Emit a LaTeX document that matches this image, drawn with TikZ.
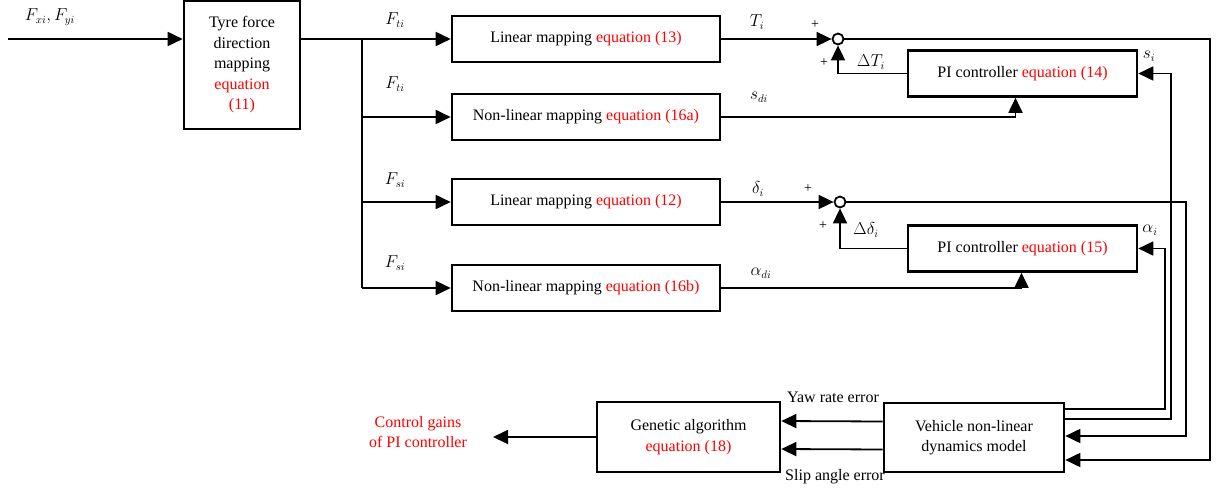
\documentclass[tikz,border=0pt]{standalone}
\usepackage{amssymb}
\usepackage{mathtools}
\usepackage{fontspec}
\setmainfont{Liberation Serif}
\usepackage{tikz}
\usetikzlibrary{arrows.meta}

\newcommand{\eqnref}[1]{\textcolor{red}{equation (#1)}}

\tikzset{
  blk/.style={draw, line width=2.6pt, inner sep=0pt, align=center},
  sig/.style={line width=1.8pt},
  arr/.style={sig, -{Triangle[length=15pt,width=14pt]}},
  sumpt/.style={circle, draw, line width=1.8pt, minimum size=11pt, inner sep=0pt},
  pm/.style={font=\fontsize{14}{16}\selectfont}
}

\begin{document}
\begin{tikzpicture}[x=1pt, y=-1pt, font=\fontsize{16}{20.5}\selectfont]
        \useasboundingbox (0,0) rectangle (1218,490);

        \node [blk, minimum width=116, minimum height=128] (tyre) at (242,65) {Tyre force\\direction\\mapping\\\textcolor{red}{equation}\\\textcolor{red}{(11)}};
        \node [blk, minimum width=268, minimum height=46] (lin13) at (586,39) {Linear mapping \eqnref{13}};
        \node [blk, minimum width=268, minimum height=46] (nl16a) at (586,117) {Non-linear mapping \eqnref{16a}};
        \node [blk, minimum width=268, minimum height=46] (lin12) at (586,202) {Linear mapping \eqnref{12}};
        \node [blk, minimum width=268, minimum height=46] (nl16b) at (586,288) {Non-linear mapping \eqnref{16b}};
        \node [blk, minimum width=229, minimum height=46] (pi14) at (1022.5,73.5) {PI controller \eqnref{14}};
        \node [blk, minimum width=229, minimum height=46] (pi15) at (1022.5,248.5) {PI controller \eqnref{15}};
        \node [blk, minimum width=183, minimum height=70] (ga) at (688.5,437) {Genetic algorithm\\\eqnref{18}};
        \node [blk, minimum width=180, minimum height=69] (veh) at (974,437.5) {Vehicle non-linear\\dynamics model};
        \node [sumpt] (sum1) at (838,39) {};
        \node [sumpt] (sum2) at (840,202) {};

        \coordinate (in) at (8,39);
        \coordinate (split) at (362,39);
        \coordinate (fbA) at (1165,409);
        \coordinate (fbB) at (1171,419);
        \coordinate (fbC) at (1186,436);
        \coordinate (fbD) at (1210,460);
        \coordinate (gains) at (493,437);

        \draw [arr] (in) -- (in -| tyre.west);
        \draw [sig] (in -| tyre.east) -- (split);
        \draw [sig] (split) -- (split |- nl16b.west);
        \draw [arr] (split) -- (lin13.west);
        \draw [arr] (split |- nl16a.west) -- (nl16a.west);
        \draw [arr] (split |- lin12.west) -- (lin12.west);
        \draw [arr] (split |- nl16b.west) -- (nl16b.west);

        \draw [arr] (lin13.east) -- (sum1.west);
        \draw [arr] (lin12.east) -- (sum2.west);
        \draw [arr] (pi14.west) -| (sum1.south);
        \draw [arr] (pi15.west) -| (sum2.south);
        \draw [arr] (nl16a.east) -| ([xshift=-7pt]pi14.south);
        \draw [arr] (nl16b.east) -| ([xshift=-1pt]pi15.south);

        \draw [arr] (veh.east |- fbA) -- (fbA) |- (pi15.east);
        \draw [arr] (veh.east |- fbB) -- (fbB) |- (pi14.east);
        \draw [arr] (sum2.east) -| (fbC) -- (fbC -| veh.east);
        \draw [arr] (sum1.east) -| (fbD) -- (fbD -| veh.east);

        \draw [arr] ([yshift=16pt]veh.west) -- ([yshift=16pt]ga.east);
        \draw [arr] ([yshift=-12pt]veh.west) -- ([yshift=-12pt]ga.east);
        \draw [arr] (ga.west) -- (gains);

        \node (lxy) at (50,17) {$F_{xi}, F_{yi}$};
        \node (lft1) at (395,20) {$F_{ti}$};
        \node (lft2) at (395,84) {$F_{ti}$};
        \node (lfs1) at (395,180) {$F_{si}$};
        \node (lfs2) at (395,263) {$F_{si}$};
        \node (lT) at (757,22) {$T_i$};
        \node (lsd) at (759,97) {$s_{di}$};
        \node (ld) at (758,189) {$\delta_i$};
        \node (lad) at (761,273) {$\alpha_{di}$};
        \node [pm] (p1) at (815,25) {+};
        \node [pm] (p2) at (824,63) {+};
        \node [pm] (p3) at (808,189) {+};
        \node [pm] (p4) at (823,226) {+};
        \node (ldT) at (871,62) {$\Delta T_i$};
        \node (ldd) at (866,230) {$\Delta\delta_i$};
        \node (ls) at (1149,56) {$s_i$};
        \node (la) at (1150,230) {$\alpha_i$};
        \node (lyaw) at (833,397) {Yaw rate error};
        \node (lslip) at (835,477) {Slip angle error};
        \node [align=center, text=red] (lgain) at (418,432) {Control gains\\of PI controller};
\end{tikzpicture}
\end{document}
